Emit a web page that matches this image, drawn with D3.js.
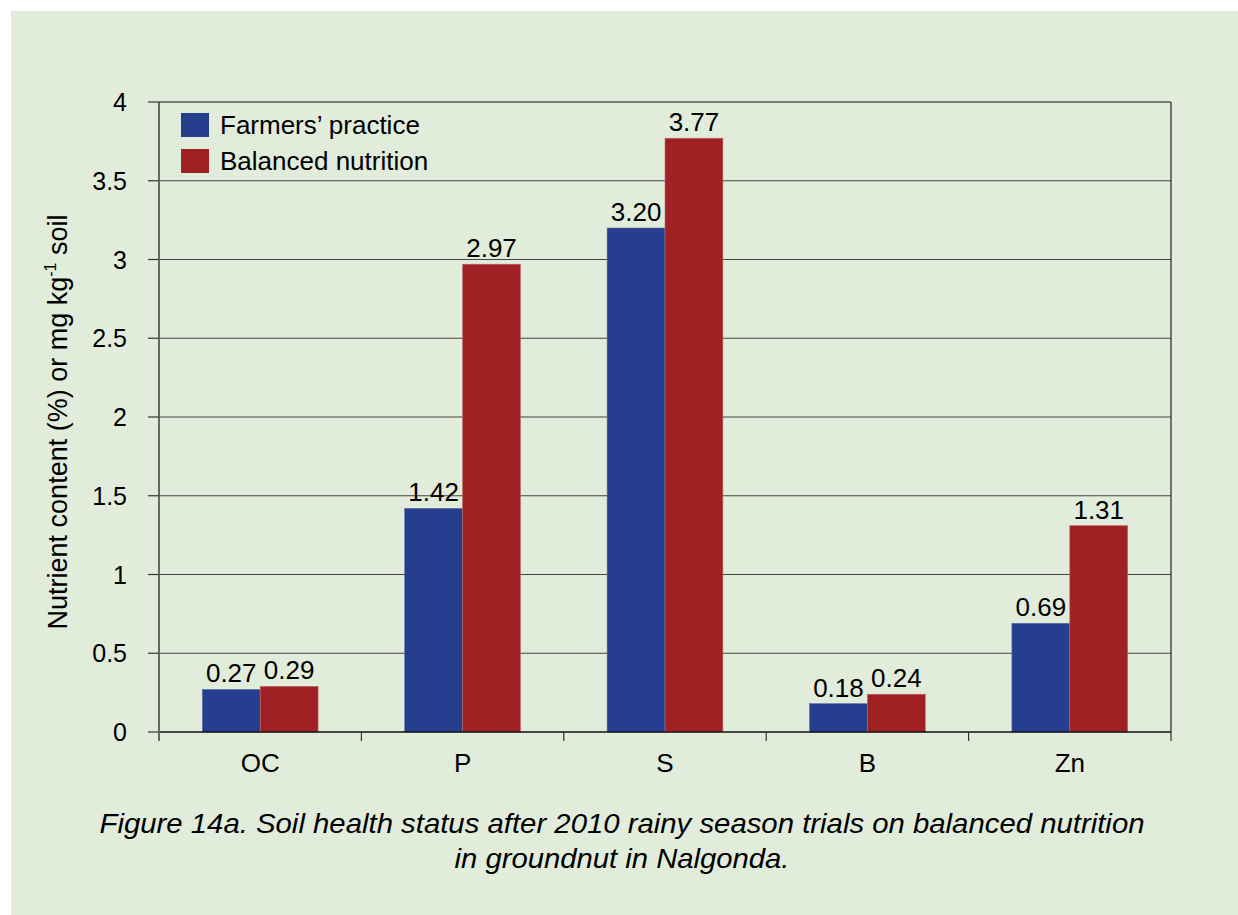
<!DOCTYPE html>
<html>
<head>
<meta charset="utf-8">
<script src="https://cdn.jsdelivr.net/npm/d3@7"></script>
<style>
  body { margin: 0; background: #ffffff; }
  text { font-family: "Liberation Sans", Arial, sans-serif; fill: #000; }
</style>
</head>
<body>
<div id="chart"></div>
<script>
var categories = ["OC", "P", "S", "B", "Zn"];
var seriesNames = ["Farmers\u2019 practice", "Balanced nutrition"];
var farmersPractice = [0.27, 1.42, 3.20, 0.18, 0.69];
var balancedNutrition = [0.29, 2.97, 3.77, 0.24, 1.31];
var yTicks = [0, 0.5, 1, 1.5, 2, 2.5, 3, 3.5, 4];
var seriesColors = ["#253f8e", "#a02124"];

var width = 1238, height = 915;
var margin = {top: 102, right: 67, bottom: 183, left: 159};

var svg = d3.select("#chart").append("svg")
    .attr("width", width)
    .attr("height", height);

// green panel
svg.append("rect")
    .attr("x", 11).attr("y", 11)
    .attr("width", width - 11).attr("height", height - 11)
    .attr("fill", "#e1ecdb");

var x = d3.scaleBand()
    .domain(categories)
    .range([margin.left, width - margin.right])
    .padding(0);

var xs = d3.scaleBand()
    .domain([0, 1])
    .range([x.bandwidth() * 0.214, x.bandwidth() * 0.786]);

var y = d3.scaleLinear()
    .domain([0, 4])
    .range([height - margin.bottom, margin.top]);

var x0 = margin.left, x1 = width - margin.right;

// gridlines
svg.append("g").selectAll("line")
    .data(yTicks.filter(function(d) { return d > 0; }))
    .enter().append("line")
    .attr("x1", x0).attr("x2", x1)
    .attr("y1", function(d) { return y(d); })
    .attr("y2", function(d) { return y(d); })
    .attr("stroke", function(d) { return d == 4 ? "#111" : "#444"; })
    .attr("stroke-width", 1.2);

// right border
svg.append("line")
    .attr("x1", x1).attr("x2", x1)
    .attr("y1", y(4)).attr("y2", y(0))
    .attr("stroke", "#222").attr("stroke-width", 1.2);

// bars
var data = categories.map(function(c, i) {
    return {cat: c, vals: [farmersPractice[i], balancedNutrition[i]]};
});

var groups = svg.append("g").selectAll("g")
    .data(data)
    .enter().append("g")
    .attr("transform", function(d) { return "translate(" + x(d.cat) + ",0)"; });

groups.selectAll("rect")
    .data(function(d) { return d.vals.map(function(v, s) { return {v: v, s: s}; }); })
    .enter().append("rect")
    .attr("x", function(d) { return xs(d.s); })
    .attr("width", xs.bandwidth())
    .attr("y", function(d) { return y(d.v); })
    .attr("height", function(d) { return y(0) - y(d.v); })
    .attr("fill", function(d) { return seriesColors[d.s]; })
    .attr("stroke", function(d) { return d.s == 0 ? "#5a6fa8" : "#c06a6a"; })
    .attr("stroke-width", 0.6);

groups.selectAll("text")
    .data(function(d) { return d.vals.map(function(v, s) { return {v: v, s: s}; }); })
    .enter().append("text")
    .attr("x", function(d) { return xs(d.s) + xs.bandwidth() / 2; })
    .attr("y", function(d) { return y(d.v) - 7; })
    .attr("text-anchor", "middle")
    .attr("font-size", 26)
    .text(function(d) { return d.v.toFixed(2); });

// x axis
var xAxis = svg.append("g");
xAxis.append("line")
    .attr("x1", x0).attr("x2", x1)
    .attr("y1", y(0)).attr("y2", y(0))
    .attr("stroke", "#111").attr("stroke-width", 1.5);

var bounds = categories.map(function(c) { return x(c); }).concat([x1]);
xAxis.selectAll(".xt")
    .data(bounds)
    .enter().append("line")
    .attr("x1", function(d) { return d; })
    .attr("x2", function(d) { return d; })
    .attr("y1", y(0)).attr("y2", y(0) + 9)
    .attr("stroke", "#333").attr("stroke-width", 1.2);

xAxis.selectAll(".xl")
    .data(categories)
    .enter().append("text")
    .attr("x", function(c) { return x(c) + x.bandwidth() / 2; })
    .attr("y", y(0) + 40)
    .attr("text-anchor", "middle")
    .attr("font-size", 26)
    .text(function(c) { return c; });

// y axis
var yAxis = svg.append("g");
yAxis.append("line")
    .attr("x1", x0).attr("x2", x0)
    .attr("y1", y(4)).attr("y2", y(0) + 9)
    .attr("stroke", "#666").attr("stroke-width", 2);

yAxis.selectAll(".yt")
    .data(yTicks)
    .enter().append("line")
    .attr("x1", x0 - 11).attr("x2", x0)
    .attr("y1", function(d) { return y(d); })
    .attr("y2", function(d) { return y(d); })
    .attr("stroke", "#333").attr("stroke-width", 1.2);

yAxis.selectAll(".yl")
    .data(yTicks)
    .enter().append("text")
    .attr("x", 127)
    .attr("y", function(d) { return y(d) + 9; })
    .attr("text-anchor", "end")
    .attr("font-size", 25)
    .text(function(d) { return d3.format("")(d); });

// y axis title
var yTitle = svg.append("text")
    .attr("transform", "translate(67," + 422 + ") rotate(-90)")
    .attr("text-anchor", "middle")
    .attr("font-size", 27);
yTitle.append("tspan").text("Nutrient content (%) or mg kg");
yTitle.append("tspan").attr("font-size", 16).attr("dy", -11).text("-1");
yTitle.append("tspan").attr("dy", 11).text(" soil");

// legend
var legend = svg.append("g").selectAll("g")
    .data(seriesNames)
    .enter().append("g")
    .attr("transform", function(d, i) { return "translate(181," + (113 + i * 36) + ")"; });

legend.append("rect")
    .attr("width", 28).attr("height", 24)
    .attr("fill", function(d, i) { return seriesColors[i]; });

legend.append("text")
    .attr("x", 39).attr("y", 21)
    .attr("font-size", 26)
    .text(function(d) { return d; });

// caption
var captionLines = [
    "Figure 14a. Soil health status after 2010 rainy season trials on balanced nutrition",
    "in groundnut in Nalgonda."
];
var captionLengths = [1045, 335];
svg.append("g").selectAll("text")
    .data(captionLines)
    .enter().append("text")
    .attr("x", 622)
    .attr("y", function(d, i) { return 833 + i * 35; })
    .attr("text-anchor", "middle")
    .attr("font-size", 28)
    .attr("font-style", "italic")
    .attr("textLength", function(d, i) { return captionLengths[i]; })
    .attr("lengthAdjust", "spacingAndGlyphs")
    .text(function(d) { return d; });
</script>
</body>
</html>
